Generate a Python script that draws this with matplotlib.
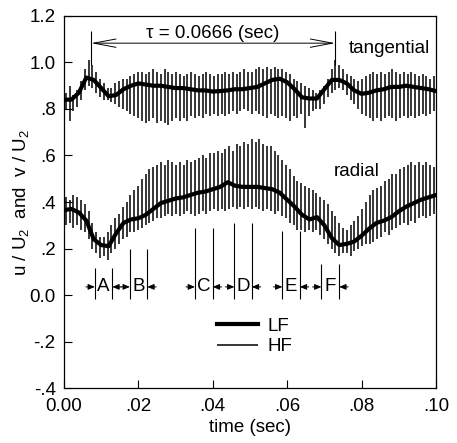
import numpy as np
import matplotlib
matplotlib.use("Agg")
import matplotlib.pyplot as plt

plt.rcParams['font.family'] = ['Liberation Sans', 'DejaVu Sans']
plt.rcParams['mathtext.fontset'] = 'custom'
plt.rcParams['mathtext.rm'] = 'Liberation Sans'
plt.rcParams['mathtext.it'] = 'Liberation Sans:italic'

# low-frequency (thick) curves, sampled every 0.002 s from 0 to 0.1
LF_T = [0.84, 0.84, 0.87, 0.935, 0.925, 0.89, 0.855, 0.86, 0.885, 0.90,
        0.91, 0.905, 0.90, 0.90, 0.895, 0.89, 0.89, 0.885, 0.88, 0.88,
        0.875, 0.877, 0.88, 0.885, 0.885, 0.89, 0.895, 0.91, 0.925, 0.93,
        0.915, 0.885, 0.85, 0.845, 0.845, 0.885, 0.925, 0.925, 0.91, 0.88,
        0.865, 0.87, 0.88, 0.885, 0.895, 0.895, 0.90, 0.895, 0.89, 0.885,
        0.877]
LF_R = [0.365, 0.37, 0.355, 0.32, 0.24, 0.215, 0.21, 0.265, 0.31, 0.325,
        0.33, 0.345, 0.37, 0.395, 0.405, 0.415, 0.42, 0.43, 0.44, 0.445,
        0.455, 0.465, 0.485, 0.47, 0.465, 0.465, 0.465, 0.46, 0.455, 0.44,
        0.41, 0.38, 0.345, 0.325, 0.335, 0.30, 0.245, 0.215, 0.22, 0.23,
        0.255, 0.285, 0.31, 0.32, 0.335, 0.36, 0.38, 0.395, 0.41, 0.42,
        0.43]

# high-frequency (thin) signal: peak and trough of each blade-passing spike
T_PK = [0.87, 0.90, 0.86, 0.88, 0.92, 0.97, 1.01, 0.99, 0.96, 0.93,
        0.91, 0.89, 0.89, 0.91, 0.92, 0.93, 0.93, 0.94, 0.95, 0.96,
        0.96, 0.95, 0.96, 0.97, 0.96, 0.95, 0.97, 0.96, 0.95, 0.96,
        0.95, 0.94, 0.95, 0.96, 0.95, 0.94, 0.95, 0.96, 0.95, 0.94,
        0.95, 0.95, 0.96, 0.95, 0.96, 0.95, 0.96, 0.97, 0.96, 0.96,
        0.97, 0.98, 0.97, 0.98, 0.97, 0.98, 0.97, 0.97, 0.96, 0.95,
        0.93, 0.92, 0.91, 0.90, 0.89, 0.88, 0.87, 0.88, 0.90, 0.93,
        0.97, 1.01, 0.99, 0.97, 0.95, 0.94, 0.93, 0.92, 0.93, 0.94,
        0.95, 0.96, 0.95, 0.96, 0.95, 0.96, 0.97, 0.96, 0.95, 0.96,
        0.95, 0.96, 0.95, 0.94, 0.95, 0.94, 0.93, 0.94]
T_TR = [0.80, 0.75, 0.79, 0.81, 0.84, 0.88, 0.90, 0.89, 0.87, 0.85,
        0.84, 0.84, 0.83, 0.82, 0.81, 0.80, 0.79, 0.78, 0.77, 0.76,
        0.75, 0.74, 0.75, 0.76, 0.74, 0.75, 0.74, 0.73, 0.75, 0.76,
        0.75, 0.76, 0.75, 0.77, 0.76, 0.77, 0.76, 0.78, 0.77, 0.78,
        0.77, 0.78, 0.77, 0.78, 0.79, 0.78, 0.79, 0.80, 0.79, 0.78,
        0.79, 0.78, 0.77, 0.76, 0.78, 0.77, 0.76, 0.77, 0.76, 0.75,
        0.77, 0.76, 0.78, 0.72, 0.77, 0.79, 0.80, 0.80, 0.82, 0.85,
        0.87, 0.88, 0.89, 0.88, 0.86, 0.84, 0.82, 0.80, 0.78, 0.77,
        0.76, 0.75, 0.76, 0.75, 0.76, 0.77, 0.76, 0.75, 0.76, 0.77,
        0.76, 0.77, 0.76, 0.77, 0.78, 0.77, 0.78, 0.79]
R_PK = [0.42, 0.41, 0.43, 0.42, 0.41, 0.39, 0.36, 0.31, 0.27, 0.25,
        0.25, 0.27, 0.30, 0.33, 0.35, 0.38, 0.40, 0.43, 0.45, 0.47,
        0.50, 0.52, 0.54, 0.55, 0.56, 0.57, 0.56, 0.58, 0.57, 0.56,
        0.57, 0.56, 0.58, 0.57, 0.58, 0.59, 0.60, 0.59, 0.61, 0.61,
        0.62, 0.61, 0.63, 0.64, 0.62, 0.65, 0.64, 0.66, 0.65, 0.67,
        0.66, 0.67, 0.65, 0.64, 0.64, 0.62, 0.60, 0.58, 0.56, 0.54,
        0.51, 0.49, 0.48, 0.47, 0.46, 0.45, 0.44, 0.42, 0.41, 0.39,
        0.36, 0.34, 0.31, 0.29, 0.28, 0.30, 0.32, 0.34, 0.37, 0.40,
        0.43, 0.45, 0.46, 0.47, 0.49, 0.50, 0.52, 0.52, 0.54, 0.55,
        0.56, 0.57, 0.56, 0.57, 0.56, 0.57, 0.56, 0.55]
R_TR = [0.30, 0.31, 0.29, 0.30, 0.28, 0.27, 0.24, 0.20, 0.18, 0.16,
        0.17, 0.15, 0.18, 0.20, 0.22, 0.24, 0.25, 0.27, 0.27, 0.28,
        0.29, 0.30, 0.31, 0.32, 0.33, 0.33, 0.34, 0.35, 0.34, 0.35,
        0.34, 0.35, 0.36, 0.35, 0.34, 0.35, 0.36, 0.35, 0.36, 0.37,
        0.36, 0.37, 0.36, 0.37, 0.38, 0.37, 0.38, 0.37, 0.38, 0.37,
        0.38, 0.37, 0.36, 0.37, 0.36, 0.35, 0.36, 0.34, 0.33, 0.31,
        0.30, 0.28, 0.28, 0.27, 0.28, 0.27, 0.28, 0.26, 0.24, 0.22,
        0.20, 0.18, 0.17, 0.18, 0.18, 0.17, 0.19, 0.20, 0.21, 0.22,
        0.22, 0.23, 0.24, 0.25, 0.27, 0.26, 0.28, 0.29, 0.30, 0.31,
        0.30, 0.32, 0.31, 0.33, 0.34, 0.33, 0.34, 0.35]

# marked intervals A-F (sec) and height of their boundary lines
SEG_LABELS = ['A', 'B', 'C', 'D', 'E', 'F']
SEG_START = [0.0083, 0.0177, 0.0352, 0.0458, 0.0587, 0.0692]
SEG_END = [0.0130, 0.0224, 0.0400, 0.0505, 0.0634, 0.0740]
SEG_TOP = [0.117, 0.198, 0.288, 0.311, 0.275, 0.133]

TAU_START = 0.0073
TAU_END = 0.0729

X_TICKS = [0.0, 0.02, 0.04, 0.06, 0.08, 0.10]
X_LABELS = ['0.00', '.02', '.04', '.06', '.08', '.10']
Y_TICKS = [-0.4, -0.2, 0.0, 0.2, 0.4, 0.6, 0.8, 1.0, 1.2]
Y_LABELS = ['-.4', '-.2', '0.0', '.2', '.4', '.6', '.8', '1.0', '1.2']

FS = 13.5

fig = plt.figure(figsize=(4.57, 4.43), dpi=100)
ax = fig.add_axes([0.140, 0.124, 0.814, 0.840])

t_lf = np.linspace(0, 0.1, len(LF_T))
t_hf = (np.arange(len(T_PK)) + 0.5) * 0.1 / len(T_PK)

hf = ax.vlines(t_hf, T_TR, T_PK, color='k', lw=1.1)
ax.vlines(t_hf, R_TR, R_PK, color='k', lw=1.1)
lf, = ax.plot(t_lf, LF_T, color='k', lw=3.0)
ax.plot(t_lf, LF_R, color='k', lw=3.0)

# interval markers
y_arr = 0.035
d = 0.0024
for lab, s, e, top in zip(SEG_LABELS, SEG_START, SEG_END, SEG_TOP):
    ax.vlines([s, e], -0.015, top, color='k', lw=0.8)
    ax.text((s + e) / 2, y_arr, lab, ha='center', va='center', fontsize=FS)
    for x0, x1 in [(s - d, s), (e + d, e)]:
        ax.annotate('', xy=(x1, y_arr), xytext=(x0, y_arr),
                    arrowprops=dict(arrowstyle='-|>,head_length=0.4,head_width=0.17',
                                    lw=0.7, color='k', shrinkA=0, shrinkB=0,
                                    mutation_scale=10))

# period annotation
ax.vlines([TAU_START, TAU_END], 0.99, 1.135, color='k', lw=0.8)
ax.annotate('', xy=(TAU_START, 1.083), xytext=(TAU_END, 1.083),
            arrowprops=dict(arrowstyle='<->,head_length=1.6,head_width=0.3',
                            lw=0.7, color='k', shrinkA=0, shrinkB=0,
                            mutation_scale=10))
ax.text(0.0401, 1.125, 'τ = 0.0666 (sec)', ha='center', va='center', fontsize=FS)

ax.text(0.0875, 1.062, 'tangential', ha='center', va='center', fontsize=FS)
ax.text(0.0787, 0.53, 'radial', ha='center', va='center', fontsize=FS)

ax.legend([lf, hf], ['LF', 'HF'], loc='upper left', bbox_to_anchor=(0.39, 0.21),
          frameon=False, handlelength=2.2, handletextpad=0.5, labelspacing=0.2,
          fontsize=FS, borderaxespad=0)

ax.set_xlim(0, 0.1)
ax.set_ylim(-0.4, 1.2)
ax.set_xticks(X_TICKS)
ax.set_xticklabels(X_LABELS)
ax.set_yticks(Y_TICKS)
ax.set_yticklabels(Y_LABELS)
ax.tick_params(direction='in', length=6, width=0.8, labelsize=FS)
ax.tick_params(axis='x', pad=7)
ax.tick_params(axis='y', pad=6)
for sp in ax.spines.values():
    sp.set_linewidth(0.9)

ax.set_xlabel('time (sec)', fontsize=FS, labelpad=3)
ax.set_ylabel('u / U$_2$  and  v / U$_2$', fontsize=FS)
ax.yaxis.set_label_coords(-0.09, 0.5)

fig.savefig('out.png', dpi=100)
